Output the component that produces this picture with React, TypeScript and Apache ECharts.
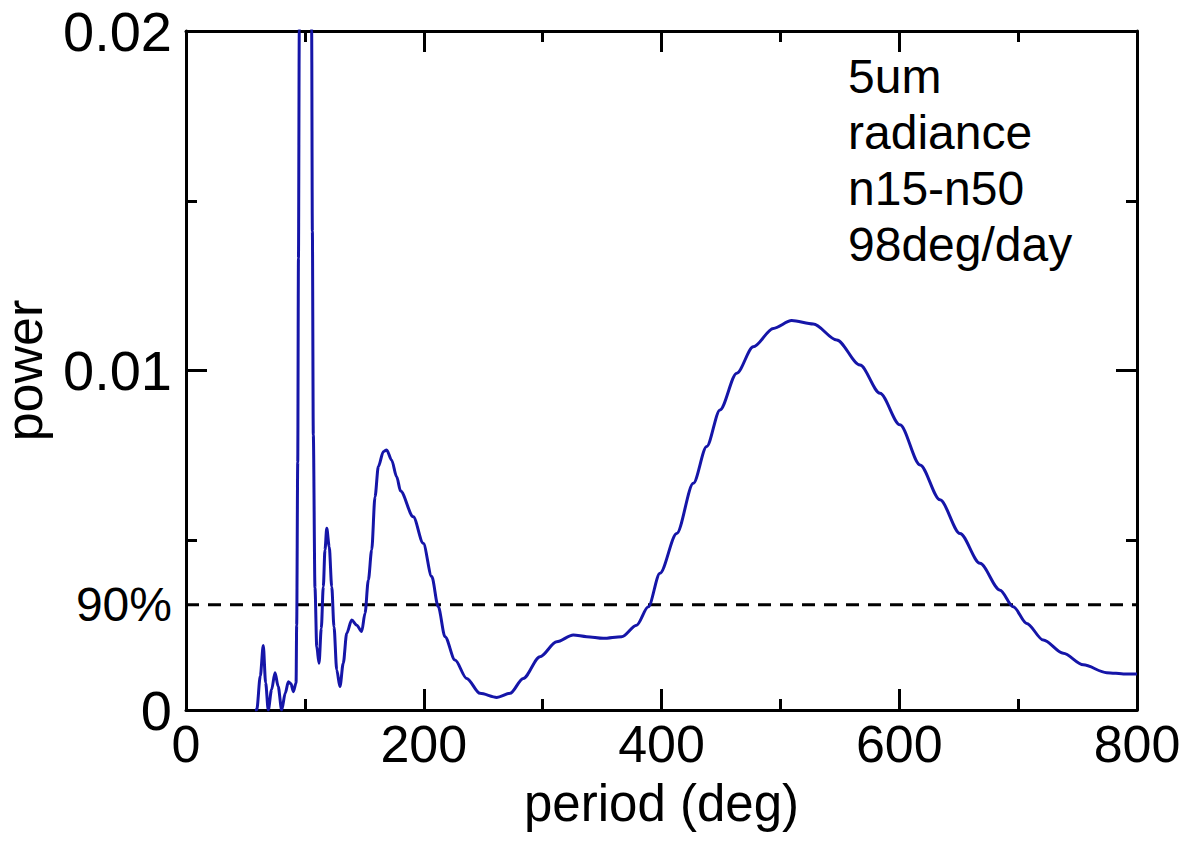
import React, { useEffect, useRef } from "react";
import * as echarts from "echarts";

const periods: number[] = [
  58.0, 59.5, 62.5, 65.0, 67.0, 69.2, 72.0, 74.9, 77.5, 80.5, 83.5, 86.1, 88.3, 90.3,
  92.6, 93.1, 94.0, 94.6, 95.3, 96.5, 100.5, 104.8, 105.7, 106.3, 107.1, 108.5, 110.0,
  111.9, 113.8, 115.5, 116.9, 118.4, 120.5, 122.6, 124.5, 126.8, 129.5, 132.3, 135.2,
  139.4, 143.6, 147.8, 150.6, 153.4, 156.2, 159.0, 161.8, 166.0, 168.8, 173.0, 177.2,
  180.5, 191.2, 199.6, 206.7, 212.2, 217.9, 226.3, 236.1, 247.3, 261.4, 272.6, 283.7,
  297.8, 311.8, 325.8, 337.1, 351.0, 366.5, 379.1, 388.9, 398.7, 412.8, 426.8, 438.0,
  449.2, 463.3, 477.2, 494.1, 509.5, 527.7, 547.4, 567.0, 583.8, 600.6, 617.5, 634.3,
  651.1, 667.9, 684.8, 695.9, 707.2, 721.2, 738.0, 754.8, 774.5, 790.0, 800.0,
];

const power: number[] = [
  0.0, 0.0, 0.001, 0.0019, 0.0008, 0.0, 0.0006, 0.0011, 0.0007, 0.0, 0.0005, 0.00083,
  0.00077, 0.00054, 0.0008, 0.0025, 0.0073, 0.0133, 0.02, 0.029, 0.034, 0.029, 0.02,
  0.0141, 0.0081, 0.0036, 0.00186, 0.00138, 0.0024, 0.00363, 0.00471, 0.00535, 0.00481,
  0.00363, 0.00245, 0.00118, 0.00069, 0.00138, 0.00226, 0.00265, 0.0025, 0.00231,
  0.00285, 0.00383, 0.00471, 0.00628, 0.00717, 0.00761, 0.00766, 0.00736, 0.00687,
  0.00645, 0.00569, 0.00491, 0.00393, 0.00304, 0.00216, 0.00147, 0.00093, 0.00049,
  0.00037, 0.00049, 0.00093, 0.00157, 0.00201, 0.00221, 0.00216, 0.00211, 0.00216,
  0.0025, 0.00304, 0.00403, 0.0052, 0.00668, 0.00776, 0.00884, 0.00992, 0.0107,
  0.01124, 0.01147, 0.01137, 0.0109, 0.01016, 0.00933, 0.0084, 0.00722, 0.00619,
  0.0052, 0.00432, 0.00353, 0.00304, 0.00255, 0.00206, 0.00167, 0.00133, 0.0011,
  0.00106, 0.00106,
];

const significance90 = 0.0031;
const significanceLabel = "90%";
const xTicks = [0, 200, 400, 600, 800];
const yTicks = [0, 0.01, 0.02];
const annotationLines = ["5um", "radiance", "n15-n50", "98deg/day"];

const FONT = '"Liberation Sans", Arial, Helvetica, sans-serif';

export default function App() {
  const ref = useRef<HTMLDivElement>(null);

  useEffect(() => {
    document.body.style.margin = "0";
    if (!ref.current) return;
    const chart = echarts.init(ref.current, undefined, { renderer: "svg" });

    const frameLine = () => ({ show: true, onZero: false, lineStyle: { color: "#000", width: 3 } });
    const majorTick = () => ({ show: true, inside: true, length: 21, lineStyle: { color: "#000", width: 3 } });
    const minorTick = () => ({ show: true, splitNumber: 2, length: 11, lineStyle: { color: "#000", width: 3 } });

    const xMin = xTicks[0];
    const xMax = xTicks[xTicks.length - 1];
    const yMin = yTicks[0];
    const yMax = yTicks[yTicks.length - 1];

    const xBase = () => ({
      type: "value",
      min: xMin,
      max: xMax,
      interval: xTicks[1] - xTicks[0],
      axisLine: frameLine(),
      axisTick: majorTick(),
      minorTick: minorTick(),
      splitLine: { show: false },
    });
    const yBase = () => ({
      type: "value",
      min: yMin,
      max: yMax,
      interval: yTicks[1] - yTicks[0],
      axisLine: frameLine(),
      axisTick: majorTick(),
      minorTick: minorTick(),
      splitLine: { show: false },
    });

    chart.setOption({
      animation: false,
      backgroundColor: "#fff",
      grid: {
        left: 186,
        right: 49,
        top: 31,
        bottom: 133,
        containLabel: false,
        outerBoundsMode: "none",
      },
      xAxis: [
        {
          ...xBase(),
          position: "bottom",
          name: "period (deg)",
          nameLocation: "middle",
          nameGap: 68,
          nameTextStyle: { fontSize: 51, color: "#000", fontFamily: FONT },
          axisLabel: { fontSize: 52, color: "#000", fontFamily: FONT, margin: 8 },
        },
        { ...xBase(), position: "top", axisLabel: { show: false } },
      ],
      yAxis: [
        {
          ...yBase(),
          position: "left",
          name: "power",
          nameLocation: "middle",
          nameGap: 140,
          nameRotate: 90,
          nameTextStyle: { fontSize: 52, lineHeight: 44, color: "#000", fontFamily: FONT },
          axisLabel: {
            fontSize: 56,
            color: "#000",
            fontFamily: FONT,
            margin: 14,
            formatter: (v: number) => (v === 0 ? "0" : String(+v.toFixed(3))),
          },
        },
        { ...yBase(), position: "right", axisLabel: { show: false } },
        {
          type: "value",
          position: "left",
          min: yMin,
          max: yMax,
          interval: significance90,
          axisLine: { show: false, onZero: false },
          axisTick: { show: false },
          splitLine: { show: false },
          axisLabel: {
            show: true,
            showMaxLabel: false,
            fontSize: 48,
            color: "#000",
            fontFamily: FONT,
            margin: 14,
            formatter: (v: number) =>
              Math.abs(v - significance90) < 1e-7 ? significanceLabel : "",
          },
        },
      ],
      graphic: [
        {
          type: "text",
          left: 848,
          top: 48,
          style: {
            text: annotationLines.join("\n"),
            fontSize: 48,
            lineHeight: 56,
            fontFamily: FONT,
            fill: "#000",
          },
        },
      ],
      series: [
        {
          type: "line",
          name: "power",
          xAxisIndex: 0,
          yAxisIndex: 0,
          data: periods.map((p, i) => [p, power[i]]),
          showSymbol: false,
          symbol: "none",
          smooth: 0.3,
          smoothMonotone: "x",
          clip: true,
          z: 3,
          lineStyle: { color: "#1515a8", width: 3 },
        },
        {
          type: "line",
          name: "90%",
          xAxisIndex: 0,
          yAxisIndex: 0,
          data: [
            [xMin, significance90],
            [xMax, significance90],
          ],
          showSymbol: false,
          symbol: "none",
          z: 2,
          lineStyle: { color: "#000", width: 3, type: [13, 9] },
        },
      ],
    });

    return () => chart.dispose();
  }, []);

  return <div ref={ref} style={{ width: 1186, height: 843 }} />;
}
